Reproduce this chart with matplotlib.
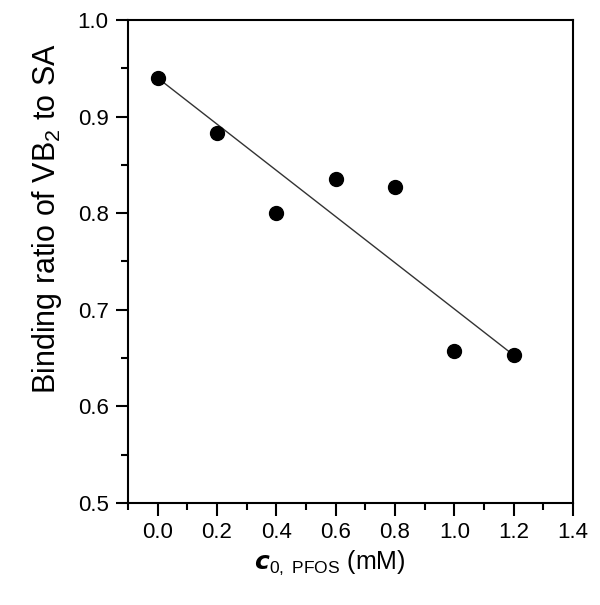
import matplotlib.pyplot as plt
from matplotlib.ticker import MultipleLocator

plt.rcParams["font.family"] = ["Liberation Sans", "DejaVu Sans"]
plt.rcParams["mathtext.fontset"] = "custom"
plt.rcParams["mathtext.rm"] = "Liberation Sans"
plt.rcParams["mathtext.it"] = "Liberation Sans:italic"
plt.rcParams["mathtext.bf"] = "Liberation Sans:bold"

# === data ===
c_pfos = [0.0, 0.2, 0.4, 0.6, 0.8, 1.0, 1.2]
binding_ratio = [0.940, 0.883, 0.800, 0.835, 0.827, 0.657, 0.653]

# fitted line end points
fit_x = [0.0, 1.2]
fit_y = [0.940, 0.653]

# === plot ===
fig = plt.figure(figsize=(6, 6.05), dpi=100)
ax = fig.add_axes([0.2133, 0.1686, 0.7417, 0.7984])

ax.plot(fit_x, fit_y, color="#333333", lw=1.0, zorder=2)
ax.plot(c_pfos, binding_ratio, "o", color="black", markersize=10, zorder=3)

ax.set_xlim(-0.1, 1.4)
ax.set_ylim(0.5, 1.0)
ax.xaxis.set_minor_locator(MultipleLocator(0.1))
ax.yaxis.set_minor_locator(MultipleLocator(0.05))
ax.set_xticks([0.0, 0.2, 0.4, 0.6, 0.8, 1.0, 1.2, 1.4])
ax.set_xticklabels(["0.0", "0.2", "0.4", "0.6", "0.8", "1.0", "1.2", "1.4"])
ax.set_yticks([0.5, 0.6, 0.7, 0.8, 0.9, 1.0])
ax.set_yticklabels(["0.5", "0.6", "0.7", "0.8", "0.9", "1.0"])

for s in ax.spines.values():
    s.set_linewidth(1.5)
ax.tick_params(which="both", direction="out", top=False, right=False,
               width=1.5, labelsize=16)
ax.tick_params(which="major", length=9, pad=5)
ax.tick_params(which="minor", length=5)

# axis labels placed like the original (a bit off-centre)
fig.text(0.55, 0.069, r"$\boldsymbol{c}_{\mathrm{0,\ PFOS}}$ (mM)",
         fontsize=18, ha="center", va="center")
fig.text(0.078, 0.638, r"Binding ratio of VB$_2$ to SA",
         fontsize=22, rotation=90, ha="center", va="center")

plt.savefig("out.png", dpi=100)
